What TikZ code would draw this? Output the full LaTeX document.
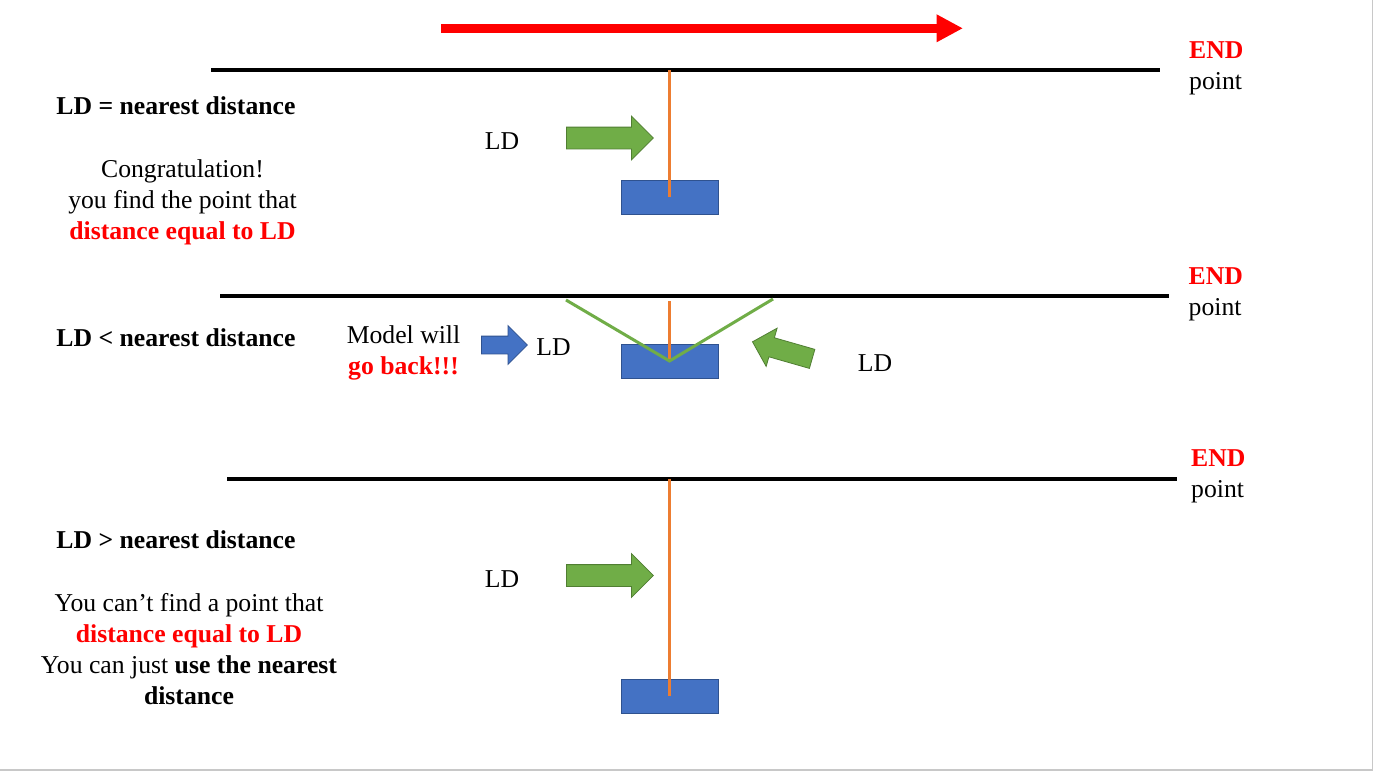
\documentclass[tikz,border=0pt]{standalone}
\usepackage{fontspec}
\setmainfont{Liberation Serif}
\usetikzlibrary{arrows.meta,shapes.arrows}

\definecolor{warnred}{HTML}{FF0000}
\definecolor{boxblue}{HTML}{4472C4}
\definecolor{boxblueline}{HTML}{2F528F}
\definecolor{ldgreen}{HTML}{70AD47}
\definecolor{ldgreenline}{HTML}{507E32}
\definecolor{probeorange}{HTML}{ED7D31}
\definecolor{framegray}{HTML}{C8C8C8}

\tikzset{
  lbl/.style={font=\fontsize{25.7}{31}\selectfont, inner sep=0pt},
  blk/.style={lbl, anchor=north, align=center},
  endlbl/.style={lbl, anchor=north west, align=left},
  target/.style={draw=boxblueline, fill=boxblue, line width=1pt,
    minimum width=97, minimum height=34, inner sep=0pt},
  ldarrow/.style={single arrow, draw=ldgreenline, fill=ldgreen, line width=0.8pt,
    inner xsep=0pt, inner ysep=10.5pt, single arrow head extend=11, minimum height=87,
    anchor=tail},
  wall/.style={line width=3.6pt},
  probe/.style={probeorange, line width=3.6pt},
}

\begin{document}
\begin{tikzpicture}[x=1pt,y=-1pt]
    \fill[white] (0,0) rectangle (1374,771);
    \useasboundingbox (0,0) rectangle (1374,771);

    % Direction arrow on top
    \draw[warnred, line width=8.7pt, -{Triangle[length=26.5pt,width=26pt]}] (441,28.3) -- (963,28.3);

    % Draw horizontal lines (one per case)
    \draw[wall] (211,70) -- (1160,70); % LD = nearest
    \draw[wall] (220,296) -- (1169,296); % LD < nearest
    \draw[wall] (227,479) -- (1177,479); % LD > nearest

    % Draw the boxes
    \node[target] (tgtA) at (669.5,197) {};
    \node[target] (tgtB) at (669.5,361) {};
    \node[target] (tgtC) at (669.5,696) {};

    % Draw vertical distance lines
    \coordinate (topA) at (669.5,70);
    \coordinate (topB) at (669.5,301);
    \coordinate (topC) at (669.5,479);
    \draw[probe] (topA) -- (tgtA.center);
    \draw[probe] (topB) -- (tgtB.center);
    \draw[probe] (topC) -- (tgtC.center);

    % Bounce lines in the middle case
    \coordinate (bounceL) at (566,300);
    \coordinate (bounceR) at (773,299);
    \draw[ldgreen, line width=3pt] (bounceL) -- (tgtB.center) -- (bounceR);

    % Block arrows
    \node[ldarrow] (ldArrA) at (566,138) {};
    \node[ldarrow] (ldArrC) at (566,575.5) {};
    \node[ldarrow, minimum height=62, inner ysep=9.5pt, single arrow head extend=10,
      rotate=164] (ldArrB) at (812.5,359) {};
    \node[ldarrow, draw=boxblueline, fill=boxblue, minimum height=46, inner ysep=8.5pt,
      single arrow head extend=10.5] (backArr) at (481,345) {};

    % Labels
    \node[lbl, anchor=base] (ldA) at (502,149.5) {LD};
    \node[lbl, anchor=base] (ldB) at (553.5,355.5) {LD};
    \node[lbl, anchor=base] (ldB2) at (875,371.5) {LD};
    \node[lbl, anchor=base] (ldC) at (502,587) {LD};

    \node[endlbl] (endA) at (1189,36.6) {\strut\textcolor{warnred}{\textbf{END}}\\\strut point};
    \node[endlbl] (endB) at (1188.5,262.1) {\strut\textcolor{warnred}{\textbf{END}}\\\strut point};
    \node[endlbl] (endC) at (1191,445) {\strut\textcolor{warnred}{\textbf{END}}\\\strut point};

    \node[lbl, anchor=base] (eqTitle) at (176,114.5) {\textbf{LD = nearest distance}};
    \node[blk] (eqNote) at (182.5,156) {\strut Congratulation!\\
      \strut you find the point that\\
      \strut\textcolor{warnred}{\textbf{distance equal to LD}}};

    \node[lbl, anchor=base] (ltTitle) at (176,346) {\textbf{LD < nearest distance}};
    \node[blk] (ltNote) at (403.5,322) {\strut Model will\\
      \strut\textcolor{warnred}{\textbf{go back!!!}}};

    \node[lbl, anchor=base] (gtTitle) at (176,548.5) {\textbf{LD > nearest distance}};
    \node[blk] (gtNote) at (189,590) {\strut You can’t find a point that\\
      \strut\textcolor{warnred}{\textbf{distance equal to LD}}\\
      \strut You can just \textbf{use the nearest}\\
      \strut\textbf{distance}};

    % Page frame
    \draw[framegray, line width=1.5pt] (1372.5,0) -- (1372.5,770) -- (0,770);
\end{tikzpicture}
\end{document}
